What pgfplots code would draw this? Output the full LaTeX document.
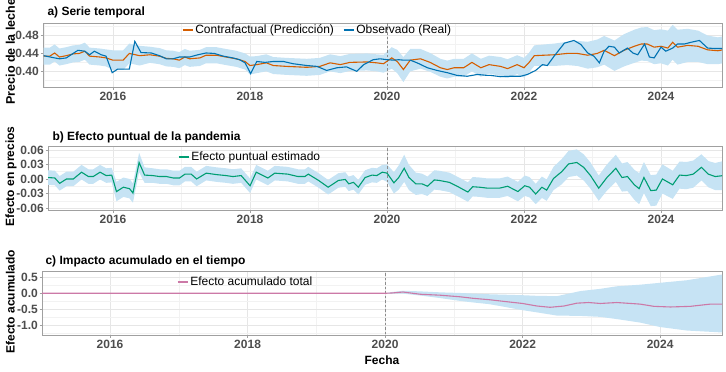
\documentclass[border=0pt]{standalone}
\usepackage{fontspec}
\setmainfont{Liberation Sans}
\usepackage{pgfplots}
\pgfplotsset{compat=1.18}
\usepackage{pgfplotstable}
\usepgfplotslibrary{fillbetween}

\definecolor{cfor}{HTML}{D55E00}
\definecolor{obsb}{HTML}{0072B2}
\definecolor{effg}{HTML}{009E73}
\definecolor{cump}{HTML}{CC79A7}
\definecolor{bandc}{HTML}{C6E3F4}
\definecolor{gridmaj}{HTML}{E6E6E6}
\definecolor{gridmin}{HTML}{F2F2F2}
\definecolor{bordercol}{HTML}{A0A0A0}
\definecolor{tickcol}{HTML}{4D4D4D}
\definecolor{vlcol}{HTML}{8C8C8C}

% Panel a: counterfactual with interval
\pgfplotstableread{
x y lo hi
2014.99 0.433 0.414 0.452
2015.08 0.433 0.414 0.452
2015.15 0.440 0.421 0.459
2015.22 0.431 0.412 0.450
2015.32 0.434 0.415 0.453
2015.42 0.438 0.419 0.457
2015.51 0.439 0.420 0.458
2015.59 0.444 0.425 0.463
2015.66 0.433 0.414 0.452
2015.81 0.431 0.412 0.450
2015.90 0.429 0.410 0.448
2016.00 0.424 0.402 0.446
2016.15 0.424 0.402 0.446
2016.24 0.439 0.417 0.461
2016.39 0.434 0.412 0.456
2016.54 0.436 0.418 0.454
2016.68 0.433 0.415 0.451
2016.78 0.428 0.410 0.446
2016.88 0.427 0.409 0.445
2016.97 0.424 0.406 0.442
2017.05 0.431 0.413 0.449
2017.12 0.427 0.409 0.445
2017.27 0.429 0.411 0.447
2017.36 0.435 0.417 0.453
2017.51 0.435 0.417 0.453
2017.65 0.431 0.413 0.449
2017.80 0.427 0.409 0.445
2017.93 0.421 0.403 0.439
2018.00 0.412 0.392 0.432
2018.10 0.414 0.395 0.433
2018.24 0.418 0.399 0.437
2018.34 0.412 0.393 0.431
2018.54 0.410 0.391 0.429
2018.83 0.408 0.389 0.427
2019.02 0.410 0.391 0.429
2019.17 0.418 0.399 0.437
2019.32 0.414 0.395 0.433
2019.46 0.419 0.400 0.438
2019.71 0.420 0.401 0.439
2019.85 0.418 0.399 0.437
2019.95 0.416 0.396 0.436
2020.07 0.429 0.405 0.453
2020.15 0.421 0.395 0.447
2020.24 0.403 0.375 0.431
2020.34 0.424 0.399 0.449
2020.49 0.427 0.405 0.449
2020.63 0.419 0.398 0.440
2020.78 0.407 0.387 0.427
2020.88 0.403 0.383 0.423
2020.98 0.407 0.387 0.427
2021.12 0.407 0.387 0.427
2021.24 0.419 0.399 0.439
2021.37 0.407 0.387 0.427
2021.49 0.414 0.394 0.434
2021.66 0.410 0.389 0.431
2021.76 0.405 0.384 0.426
2021.90 0.414 0.393 0.435
2022.00 0.407 0.385 0.429
2022.07 0.418 0.396 0.440
2022.15 0.434 0.411 0.457
2022.29 0.435 0.411 0.459
2022.44 0.436 0.411 0.461
2022.63 0.439 0.413 0.465
2022.78 0.439 0.411 0.467
2022.93 0.435 0.405 0.465
2023.07 0.439 0.408 0.470
2023.17 0.446 0.414 0.478
2023.32 0.434 0.400 0.468
2023.46 0.446 0.410 0.482
2023.61 0.455 0.418 0.492
2023.71 0.460 0.423 0.497
2023.80 0.460 0.422 0.498
2023.90 0.453 0.415 0.491
2024.00 0.455 0.417 0.493
2024.10 0.451 0.412 0.490
2024.17 0.464 0.425 0.503
2024.24 0.453 0.414 0.492
2024.39 0.457 0.420 0.494
2024.54 0.455 0.420 0.490
2024.68 0.447 0.415 0.479
2024.83 0.445 0.415 0.475
2024.90 0.447 0.417 0.477
}\cfA

% Panel a: observed
\pgfplotstableread{
x y
2014.99 0.434
2015.15 0.429
2015.22 0.427
2015.32 0.429
2015.39 0.436
2015.49 0.446
2015.59 0.444
2015.66 0.436
2015.73 0.444
2015.83 0.436
2015.90 0.433
2015.99 0.396
2016.07 0.404
2016.24 0.404
2016.32 0.466
2016.41 0.441
2016.56 0.440
2016.68 0.434
2016.78 0.427
2016.88 0.427
2016.97 0.431
2017.12 0.431
2017.24 0.436
2017.36 0.440
2017.48 0.439
2017.61 0.433
2017.75 0.429
2017.85 0.425
2017.93 0.418
2018.01 0.394
2018.10 0.421
2018.22 0.419
2018.34 0.421
2018.49 0.421
2018.63 0.416
2018.83 0.412
2018.98 0.410
2019.12 0.401
2019.27 0.407
2019.41 0.409
2019.56 0.399
2019.66 0.414
2019.80 0.425
2019.90 0.427
2020.00 0.425
2020.10 0.424
2020.17 0.425
2020.24 0.424
2020.34 0.424
2020.44 0.418
2020.59 0.407
2020.73 0.401
2020.88 0.396
2021.02 0.390
2021.17 0.388
2021.32 0.392
2021.46 0.390
2021.51 0.390
2021.66 0.387
2021.80 0.388
2021.95 0.388
2022.05 0.392
2022.17 0.401
2022.27 0.414
2022.34 0.412
2022.44 0.433
2022.59 0.462
2022.73 0.468
2022.83 0.459
2022.93 0.440
2023.02 0.433
2023.10 0.418
2023.17 0.444
2023.24 0.455
2023.32 0.453
2023.39 0.440
2023.51 0.451
2023.59 0.440
2023.66 0.436
2023.76 0.460
2023.83 0.431
2023.90 0.429
2024.00 0.453
2024.07 0.444
2024.17 0.451
2024.24 0.460
2024.34 0.460
2024.44 0.464
2024.56 0.468
2024.68 0.451
2024.78 0.450
2024.90 0.450
}\obsA

% Panel b: point effect with interval
\pgfplotstableread{
x y lo hi
2015.05 0.003 -0.012 0.018
2015.15 0.002 -0.013 0.017
2015.22 -0.009 -0.024 0.006
2015.32 0.000 -0.015 0.015
2015.42 0.000 -0.015 0.015
2015.54 0.014 -0.001 0.029
2015.64 0.005 -0.010 0.020
2015.71 0.005 -0.010 0.020
2015.81 0.014 -0.001 0.029
2015.90 0.007 -0.008 0.022
2015.98 0.008 -0.007 0.023
2016.05 -0.026 -0.046 -0.006
2016.15 -0.017 -0.037 0.003
2016.24 -0.020 -0.040 0.000
2016.29 -0.029 -0.049 -0.009
2016.38 0.034 0.014 0.054
2016.46 0.008 -0.008 0.024
2016.58 0.007 -0.008 0.022
2016.68 0.005 -0.010 0.020
2016.78 0.005 -0.010 0.020
2016.88 0.002 -0.013 0.017
2016.97 0.002 -0.013 0.017
2017.05 0.010 -0.005 0.025
2017.14 0.010 -0.005 0.025
2017.22 0.000 -0.015 0.015
2017.36 0.012 -0.003 0.027
2017.51 0.009 -0.006 0.024
2017.65 0.007 -0.008 0.022
2017.75 0.005 -0.010 0.020
2017.87 0.007 -0.008 0.022
2018.00 -0.014 -0.029 0.001
2018.09 0.014 -0.001 0.029
2018.26 0.002 -0.013 0.017
2018.36 0.012 -0.003 0.027
2018.55 0.010 -0.005 0.025
2018.70 0.005 -0.010 0.020
2018.80 0.005 -0.010 0.020
2018.85 0.010 -0.005 0.025
2019.00 -0.003 -0.018 0.012
2019.14 -0.017 -0.032 -0.002
2019.29 -0.003 -0.018 0.012
2019.39 -0.001 -0.016 0.014
2019.44 -0.010 -0.025 0.005
2019.51 -0.007 -0.022 0.008
2019.58 -0.017 -0.032 -0.002
2019.68 0.003 -0.012 0.018
2019.78 0.008 -0.007 0.023
2019.85 0.007 -0.008 0.022
2019.93 0.014 -0.001 0.029
2020.00 0.012 -0.006 0.030
2020.10 -0.008 -0.030 0.014
2020.17 0.003 -0.022 0.028
2020.25 0.022 -0.006 0.050
2020.32 0.003 -0.023 0.029
2020.42 -0.010 -0.033 0.013
2020.51 -0.010 -0.031 0.011
2020.59 -0.015 -0.035 0.005
2020.69 -0.002 -0.022 0.018
2020.76 -0.003 -0.023 0.017
2020.91 -0.007 -0.027 0.013
2021.05 -0.017 -0.037 0.003
2021.18 -0.027 -0.047 -0.007
2021.25 -0.016 -0.036 0.004
2021.35 -0.017 -0.037 0.003
2021.47 -0.019 -0.039 0.001
2021.64 -0.019 -0.039 0.001
2021.76 -0.015 -0.035 0.005
2021.91 -0.026 -0.046 -0.006
2022.01 -0.014 -0.035 0.007
2022.08 -0.017 -0.038 0.004
2022.17 -0.031 -0.052 -0.010
2022.26 -0.017 -0.039 0.005
2022.33 -0.023 -0.045 -0.001
2022.43 0.001 -0.023 0.025
2022.55 0.015 -0.011 0.041
2022.65 0.031 0.004 0.058
2022.77 0.034 0.007 0.061
2022.87 0.024 -0.003 0.051
2022.97 0.007 -0.020 0.034
2023.09 -0.019 -0.045 0.007
2023.21 0.003 -0.024 0.030
2023.34 0.022 -0.006 0.050
2023.43 0.003 -0.026 0.032
2023.51 0.005 -0.025 0.035
2023.61 -0.012 -0.043 0.019
2023.68 -0.020 -0.052 0.012
2023.75 0.003 -0.029 0.035
2023.85 -0.024 -0.056 0.008
2023.93 -0.023 -0.055 0.009
2024.02 0.000 -0.030 0.030
2024.17 -0.012 -0.041 0.017
2024.27 0.008 -0.020 0.036
2024.37 0.007 -0.021 0.035
2024.47 0.010 -0.018 0.038
2024.59 0.024 -0.003 0.051
2024.69 0.010 -0.017 0.037
2024.79 0.005 -0.023 0.033
2024.91 0.007 -0.023 0.037
}\effB

% Panel c: cumulative effect
\pgfplotstableread{
x y
2015.01 0.00
2020.00 0.00
2020.10 0.01
2020.26 0.04
2020.51 -0.03
2020.80 -0.06
2021.09 -0.11
2021.29 -0.16
2021.51 -0.20
2021.67 -0.24
2022.00 -0.32
2022.21 -0.40
2022.40 -0.44
2022.60 -0.40
2022.79 -0.31
2022.96 -0.29
2023.13 -0.32
2023.37 -0.29
2023.71 -0.34
2023.91 -0.41
2024.15 -0.43
2024.44 -0.41
2024.73 -0.34
2024.90 -0.34
}\cumC

\pgfplotstableread{
x lo hi
2020.00 0.00 0.00
2020.10 -0.01 0.04
2020.26 -0.01 0.08
2020.51 -0.07 0.06
2020.80 -0.15 0.03
2021.09 -0.24 0.01
2021.29 -0.29 -0.01
2021.51 -0.34 -0.03
2021.67 -0.40 -0.04
2022.00 -0.53 -0.06
2022.21 -0.60 -0.08
2022.50 -0.70 -0.09
2022.84 -0.71 0.07
2023.13 -0.74 0.14
2023.37 -0.81 0.22
2023.71 -0.92 0.27
2024.00 -1.06 0.33
2024.39 -1.17 0.41
2024.90 -1.23 0.59
}\bandC

\pgfplotsset{
  panel/.style={
    scale only axis, anchor=north west,
    scaled ticks=false,
    axis line style={draw=bordercol, line width=0.8pt},
    grid=both,
    major grid style={draw=gridmaj, line width=0.6pt},
    minor grid style={draw=gridmin, line width=0.4pt},
    tick align=outside, major tick length=2.5pt, minor tick length=0pt,
    tick style={draw=bordercol, line width=0.6pt},
    xtick pos=lower, ytick pos=lower,
    xtick={2016,2018,2020,2022,2024},
    xticklabels={2016,2018,2020,2022,2024},
    minor xtick={2015,2017,2019,2021,2023},
    ticklabel style={font=\fontsize{12}{14}\selectfont\bfseries, text=tickcol},
    yticklabel style={inner sep=1.5pt},
    xticklabel style={inner sep=2pt},
    legend style={draw=none, fill=none, inner sep=0pt, outer sep=0pt,
      font=\fontsize{12}{14}\selectfont, cells={anchor=west},
      /tikz/every even column/.append style={column sep=7pt}},
    legend image code/.code={\draw[#1, line width=1.3pt] (0pt,0pt) -- (10pt,0pt);},
  },
  vline/.style={draw=vlcol, dash pattern=on 2.5pt off 2pt, line width=0.6pt, forget plot},
}

\begin{document}
\begin{tikzpicture}

% ---------------- Panel a
\begin{axis}[panel, at={(43pt,-23pt)}, width=679pt, height=64pt,
  xmin=2014.98, xmax=2024.89, ymin=0.364, ymax=0.507,
  ytick={0.40,0.44,0.48}, yticklabels={0.40,0.44,0.48},
  minor ytick={0.38,0.42,0.46,0.50},
  legend columns=2,
  legend style={at={(rel axis cs:0.2047,0.89)}, anchor=west}]
\addplot[draw=none, name path=ahi, forget plot] table[x=x,y=hi]{\cfA};
\addplot[draw=none, name path=alo, forget plot] table[x=x,y=lo]{\cfA};
\addplot[fill=bandc, draw=none, forget plot] fill between[of=ahi and alo];
\addplot[vline] coordinates {(2020,0.3) (2020,0.6)};
\addplot[cfor, line width=1.1pt] table[x=x,y=y]{\cfA};
\addlegendentry{Contrafactual (Predicción)}
\addplot[obsb, line width=1.1pt] table[x=x,y=y]{\obsA};
\addlegendentry{Observado (Real)}
\end{axis}

% ---------------- Panel b
\begin{axis}[panel, at={(48pt,-146pt)}, width=674pt, height=64pt,
  xmin=2015.05, xmax=2024.89, ymin=-0.064, ymax=0.068,
  ytick={-0.06,-0.03,0,0.03,0.06}, yticklabels={-0.06,-0.03,0.00,0.03,0.06},
  minor ytick={-0.045,-0.015,0.015,0.045},
  legend style={at={(rel axis cs:0.193,0.828)}, anchor=west}]
\addplot[draw=none, name path=bhi, forget plot] table[x=x,y=hi]{\effB};
\addplot[draw=none, name path=blo, forget plot] table[x=x,y=lo]{\effB};
\addplot[fill=bandc, draw=none, forget plot] fill between[of=bhi and blo];
\addplot[vline] coordinates {(2020,-0.1) (2020,0.1)};
\addplot[effg, line width=1.1pt] table[x=x,y=y]{\effB};
\addlegendentry{Efecto puntual estimado}
\end{axis}

% ---------------- Panel c
\begin{axis}[panel, at={(42pt,-271pt)}, width=680pt, height=64pt,
  xmin=2015.01, xmax=2024.90, ymin=-1.31, ymax=0.70,
  ytick={-1,-0.5,0,0.5}, yticklabels={-1.0,-0.5,0.0,0.5},
  minor ytick={-1.25,-0.75,-0.25,0.25},
  legend style={at={(rel axis cs:0.1985,0.828)}, anchor=west}]
\addplot[draw=none, name path=chi, forget plot] table[x=x,y=hi]{\bandC};
\addplot[draw=none, name path=clo, forget plot] table[x=x,y=lo]{\bandC};
\addplot[fill=bandc, draw=none, forget plot] fill between[of=chi and clo];
\addplot[vline] coordinates {(2020,-2) (2020,2)};
\addplot[cump, line width=1.1pt] table[x=x,y=y]{\cumC};
\addlegendentry{Efecto acumulado total}
\end{axis}

% ---------------- Titles and axis titles
\node[anchor=base west, font=\fontsize{12}{14}\selectfont\bfseries] at (44pt,-15.5pt) {a) Serie temporal};
\node[anchor=base west, font=\fontsize{12}{14}\selectfont\bfseries] at (49pt,-140pt) {b) Efecto puntual de la pandemia};
\node[anchor=base west, font=\fontsize{12}{14}\selectfont\bfseries] at (42pt,-264.5pt) {c) Impacto acumulado en el tiempo};
\node[anchor=base west, rotate=90, font=\fontsize{12.5}{14}\selectfont\bfseries] at (15pt,-108pt) {Precio de la leche};
\node[anchor=base west, rotate=90, font=\fontsize{12}{14}\selectfont\bfseries] at (14pt,-230pt) {Efecto en precios};
\node[anchor=base west, rotate=90, font=\fontsize{12}{14}\selectfont\bfseries] at (14.5pt,-357pt) {Efecto acumulado};
\node[anchor=base, font=\fontsize{12}{14}\selectfont\bfseries] at (382pt,-364pt) {Fecha};

\pgfresetboundingbox
\useasboundingbox (0,0) rectangle (726pt,-372pt);
\end{tikzpicture}
\end{document}
